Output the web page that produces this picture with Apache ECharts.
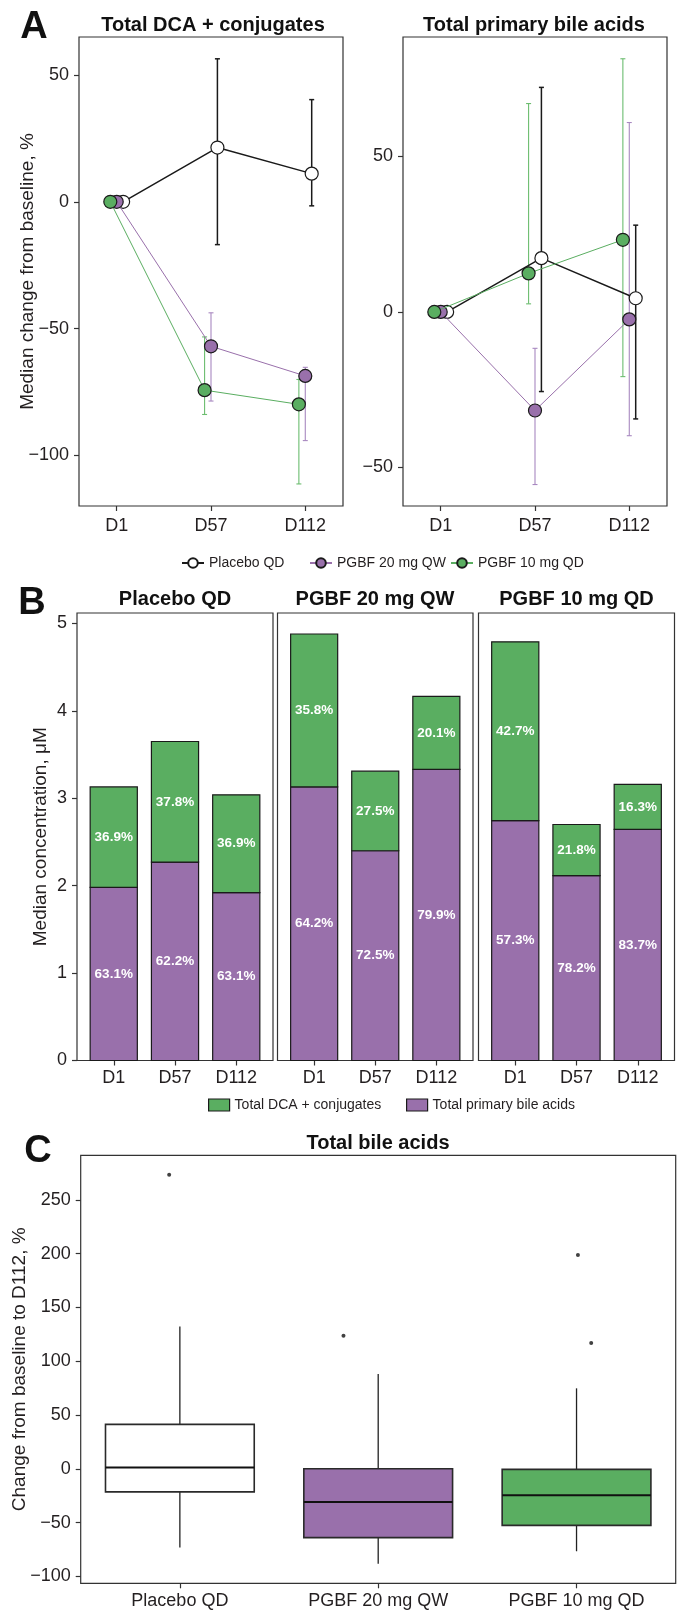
<!DOCTYPE html>
<html>
<head>
<meta charset="utf-8">
<script src="https://cdn.jsdelivr.net/npm/echarts@6/dist/echarts.min.js"></script>
<style>
  html, body { margin: 0; padding: 0; background: #fff; }
  #chart { width: 692px; height: 1624px; }
</style>
</head>
<body>
<div id="chart"></div>
<script>
// ---- data ----
const days = ['D1', 'D57', 'D112']
const groups = ['Placebo QD', 'PGBF 20 mg QW', 'PGBF 10 mg QD']

// A: median % change from baseline, with error bar ends
const dcaChgPlacebo = [0, 21.4, 11.1]
const dcaChgPlaceboLo = [null, -16.9, -1.6]
const dcaChgPlaceboHi = [null, 56.4, 40.3]
const dcaChg20 = [0, -57.0, -68.7]
const dcaChg20Lo = [null, -78.6, -94.2]
const dcaChg20Hi = [null, -43.8, -65.3]
const dcaChg10 = [0, -74.3, -79.9]
const dcaChg10Lo = [null, -83.9, -111.3]
const dcaChg10Hi = [null, -53.3, -70.1]

const priChgPlacebo = [0, 17.3, 4.4]
const priChgPlaceboLo = [null, -25.6, -34.4]
const priChgPlaceboHi = [null, 72.2, 27.9]
const priChg20 = [0, -31.7, -2.4]
const priChg20Lo = [null, -55.5, -39.8]
const priChg20Hi = [null, -11.7, 60.9]
const priChg10 = [0, 12.4, 23.2]
const priChg10Lo = [null, 2.6, -20.8]
const priChg10Hi = [null, 67.0, 81.4]

const dcaTicks = [-100, -50, 0, 50]
const priTicks = [-50, 0, 50]

// B: median concentration, uM
const primaryConcPlacebo = [1.98, 2.27, 1.92]
const dcaConcPlacebo = [1.15, 1.38, 1.12]
const primaryConc20 = [3.13, 2.40, 3.33]
const dcaConc20 = [1.75, 0.91, 0.835]
const primaryConc10 = [2.745, 2.115, 2.645]
const dcaConc10 = [2.045, 0.585, 0.515]
const primaryPctPlacebo = ['63.1%', '62.2%', '63.1%']
const dcaPctPlacebo = ['36.9%', '37.8%', '36.9%']
const primaryPct20 = ['64.2%', '72.5%', '79.9%']
const dcaPct20 = ['35.8%', '27.5%', '20.1%']
const primaryPct10 = ['57.3%', '78.2%', '83.7%']
const dcaPct10 = ['42.7%', '21.8%', '16.3%']
const concTicks = [0, 1, 2, 3, 4, 5]

// C: change from baseline to D112 (min, Q1, median, Q3, max)
const boxPlacebo = [-73.2, -21.5, 1.2, 41.3, 132.3]
const box20 = [-88.4, -64.0, -30.9, 0.0, 88.1]
const box10 = [-76.7, -52.6, -24.7, -0.6, 74.8]
const outlierGroup = [0, 1, 2, 2]
const outlierValue = [273.5, 123.6, 198.8, 117.0]
const outlierJitter = [-0.054, -0.175, 0.007, 0.074]
const bileTicks = [-100, -50, 0, 50, 100, 150, 200, 250]

// ---- styling ----
const FONT = '"Liberation Sans", Arial, Helvetica, sans-serif'
const INK = '#231f20'
const FRAME = '#333'
const GREEN = '#5aae61'
const PURPLE = '#9970ab'

const groupStyle = [
  { fill: '#fff', line: '#1a1a1a', err: '#1a1a1a', width: 1.5, dodge: 0.068 },
  { fill: PURPLE, line: PURPLE, err: '#a888c0', width: 1, dodge: 0 },
  { fill: GREEN, line: GREEN, err: '#6cbd6f', width: 1, dodge: -0.068 }
]

const minus = v => String(v).replace('-', '\u2212')

const tickLabel = { fontSize: 18, color: INK, fontFamily: FONT }
const tickLine = { color: FRAME, width: 1.2 }
const noLine = { show: false, onZero: false }

const chart = echarts.init(document.getElementById('chart'))

const frame = { show: true, borderColor: FRAME, borderWidth: 1.2, backgroundColor: 'transparent', outerBoundsMode: 'none', containLabel: false }
const grid = [
  { left: 79, top: 37, width: 264, height: 469 },
  { left: 403, top: 37, width: 264, height: 469 },
  { left: 77, top: 613, width: 196, height: 447.5 },
  { left: 277.5, top: 613, width: 195.5, height: 447.5 },
  { left: 478.5, top: 613, width: 196, height: 447.5 },
  { left: 80.7, top: 1155.3, width: 595, height: 428 }
].map(g => Object.assign({}, frame, g))

const yName = (text, gap) => ({
  name: text, nameLocation: 'middle', nameRotate: 90, nameGap: gap, nameMoveOverlap: false,
  nameTextStyle: { fontSize: 19, color: INK, fontFamily: FONT }
})

const xAxis = []
const yAxis = []

// A axes
;[0, 1].forEach(p => {
  xAxis.push({
    gridIndex: p, type: 'value', min: 0.6, max: 3.4,
    axisLine: noLine, splitLine: { show: false },
    axisTick: { show: true, length: 5, customValues: [1, 2, 3], lineStyle: tickLine },
    axisLabel: Object.assign({ customValues: [1, 2, 3], margin: 11, formatter: v => days[Math.round(v) - 1] }, tickLabel)
  })
  const ticks = p === 0 ? dcaTicks : priTicks
  yAxis.push(Object.assign({
    gridIndex: p, type: 'value',
    min: p === 0 ? -120 : -62.4, max: p === 0 ? 65 : 88.4,
    axisLine: noLine, splitLine: { show: false },
    axisTick: { show: true, length: 5, customValues: ticks, lineStyle: tickLine },
    axisLabel: Object.assign({ customValues: ticks, margin: 10, formatter: minus }, tickLabel)
  }, yName(p === 0 ? 'Median change from baseline, %' : '', 42)))
})

// B axes
;[0, 1, 2].forEach(p => {
  xAxis.push({
    gridIndex: 2 + p, type: 'value', min: 0.4, max: 3.6,
    axisLine: noLine, splitLine: { show: false },
    axisTick: { show: true, length: 5, customValues: [1, 2, 3], lineStyle: tickLine },
    axisLabel: Object.assign({ customValues: [1, 2, 3], margin: 9, formatter: v => days[Math.round(v) - 1] }, tickLabel)
  })
  yAxis.push(Object.assign({
    gridIndex: 2 + p, type: 'value', min: 0, max: 5.12,
    axisLine: noLine, splitLine: { show: false },
    axisTick: { show: p === 0, length: 5, customValues: concTicks, lineStyle: tickLine },
    axisLabel: Object.assign({ show: p === 0, customValues: concTicks, margin: 10 }, tickLabel)
  }, yName(p === 0 ? 'Median concentration, \u03bcM' : '', 27)))
})

// C axes
xAxis.push({
  gridIndex: 5, type: 'value', min: -0.5, max: 2.5,
  axisLine: noLine, splitLine: { show: false },
  axisTick: { show: true, length: 5, customValues: [0, 1, 2], lineStyle: tickLine },
  axisLabel: Object.assign({ customValues: [0, 1, 2], margin: 9, formatter: v => groups[Math.round(v)] }, tickLabel)
})
yAxis.push(Object.assign({
  gridIndex: 5, type: 'value', min: -106.5, max: 291.5,
  axisLine: noLine, splitLine: { show: false },
  axisTick: { show: true, length: 5, customValues: bileTicks, lineStyle: tickLine },
  axisLabel: Object.assign({ customValues: bileTicks, margin: 10, formatter: minus }, tickLabel)
}, yName('Change from baseline to D112, %', 51)))

const series = []

// A: error bars, then lines with points
const panelA = [
  [[dcaChgPlacebo, dcaChgPlaceboLo, dcaChgPlaceboHi], [dcaChg20, dcaChg20Lo, dcaChg20Hi], [dcaChg10, dcaChg10Lo, dcaChg10Hi]],
  [[priChgPlacebo, priChgPlaceboLo, priChgPlaceboHi], [priChg20, priChg20Lo, priChg20Hi], [priChg10, priChg10Lo, priChg10Hi]]
]

panelA.forEach((sets, p) => {
  sets.forEach(([med, lo, hi], g) => {
    const st = groupStyle[g]
    const bars = []
    lo.forEach((v, i) => {
      if (v !== null) bars.push([i + 1 + st.dodge, v, hi[i]])
    })
    series.push({
      type: 'custom', xAxisIndex: p, yAxisIndex: p, z: 1, silent: true,
      data: bars,
      encode: { x: 0, y: [1, 2] },
      renderItem: (params, api) => {
        const x = api.value(0)
        const top = api.coord([x, api.value(2)])
        const bot = api.coord([x, api.value(1)])
        const cap = 2.5
        const style = { stroke: st.err, lineWidth: g === 0 ? 1.5 : 1.1 }
        return {
          type: 'group',
          children: [
            { type: 'line', shape: { x1: top[0], y1: top[1], x2: bot[0], y2: bot[1] }, style },
            { type: 'line', shape: { x1: top[0] - cap, y1: top[1], x2: top[0] + cap, y2: top[1] }, style },
            { type: 'line', shape: { x1: bot[0] - cap, y1: bot[1], x2: bot[0] + cap, y2: bot[1] }, style }
          ]
        }
      }
    })
  })
  sets.forEach(([med], g) => {
    const st = groupStyle[g]
    series.push({
      type: 'line', name: groups[g], xAxisIndex: p, yAxisIndex: p, z: 3 + g,
      data: med.map((v, i) => [i + 1 + st.dodge, v]),
      symbol: 'circle', symbolSize: 13,
      itemStyle: { color: st.fill, borderColor: '#1a1a1a', borderWidth: 1.2 },
      lineStyle: { color: st.line, width: st.width },
      emphasis: { disabled: true }
    })
  })
})

// B: stacked bars, one segment per data item [day, from, to]
const panelB = [
  [primaryConcPlacebo, dcaConcPlacebo, primaryPctPlacebo, dcaPctPlacebo],
  [primaryConc20, dcaConc20, primaryPct20, dcaPct20],
  [primaryConc10, dcaConc10, primaryPct10, dcaPct10]
]
const segmentRenderer = (color, labels) => (params, api) => {
  const x = api.value(0)
  const base = api.coord([x, api.value(1)])
  const top = api.coord([x, api.value(2)])
  const w = api.size([0.77, 0])[0]
  return {
    type: 'group',
    children: [
      { type: 'rect', shape: { x: base[0] - w / 2, y: top[1], width: w, height: base[1] - top[1] },
        style: { fill: color, stroke: '#1a1a1a', lineWidth: 1.2 } },
      { type: 'text', x: base[0], y: (base[1] + top[1]) / 2,
        style: { text: labels[params.dataIndex], fill: '#fff', textAlign: 'center', textVerticalAlign: 'middle',
          font: 'bold 13.5px ' + FONT } }
    ]
  }
}
panelB.forEach(([pri, dca, priPct, dcaPct], p) => {
  series.push({
    type: 'custom', name: 'Total primary bile acids', silent: true,
    xAxisIndex: 2 + p, yAxisIndex: 2 + p,
    data: pri.map((v, i) => [i + 1, 0, v]),
    encode: { x: 0, y: [1, 2] },
    itemStyle: { color: PURPLE, borderColor: '#1a1a1a', borderWidth: 1 },
    renderItem: segmentRenderer(PURPLE, priPct)
  })
  series.push({
    type: 'custom', name: 'Total DCA + conjugates', silent: true,
    xAxisIndex: 2 + p, yAxisIndex: 2 + p,
    data: dca.map((v, i) => [i + 1, pri[i], pri[i] + v]),
    encode: { x: 0, y: [1, 2] },
    itemStyle: { color: GREEN, borderColor: '#1a1a1a', borderWidth: 1 },
    renderItem: segmentRenderer(GREEN, dcaPct)
  })
})

// C: box plots and outliers
const boxFill = ['#fff', PURPLE, GREEN]
series.push({
  type: 'custom', xAxisIndex: 5, yAxisIndex: 5, silent: true,
  data: [boxPlacebo, box20, box10].map((b, i) => [i].concat(b)),
  encode: { x: 0, y: [1, 5] },
  renderItem: (params, api) => {
    const x = api.value(0)
    const half = api.size([0.75, 0])[0] / 2
    const lo = api.coord([x, api.value(1)])
    const q1 = api.coord([x, api.value(2)])
    const md = api.coord([x, api.value(3)])
    const q3 = api.coord([x, api.value(4)])
    const hi = api.coord([x, api.value(5)])
    const whisker = { stroke: '#222', lineWidth: 1.3 }
    return {
      type: 'group',
      children: [
        { type: 'line', shape: { x1: hi[0], y1: hi[1], x2: q3[0], y2: q3[1] }, style: whisker },
        { type: 'line', shape: { x1: lo[0], y1: lo[1], x2: q1[0], y2: q1[1] }, style: whisker },
        { type: 'rect', shape: { x: q3[0] - half, y: q3[1], width: half * 2, height: q1[1] - q3[1] },
          style: { fill: boxFill[params.dataIndex], stroke: '#2a2a2a', lineWidth: 1.6 } },
        { type: 'line', shape: { x1: md[0] - half, y1: md[1], x2: md[0] + half, y2: md[1] },
          style: { stroke: '#111', lineWidth: 2 } }
      ]
    }
  }
})
series.push({
  type: 'scatter', xAxisIndex: 5, yAxisIndex: 5, silent: true,
  data: outlierValue.map((v, i) => [outlierGroup[i] + outlierJitter[i], v]),
  symbol: 'circle', symbolSize: 4,
  itemStyle: { color: '#111' }
})

const legendBase = {
  orient: 'horizontal', selectedMode: false, itemGap: 0, padding: 0,
  textStyle: { fontSize: 14, color: INK, fontFamily: FONT }
}
const legend = [
  Object.assign({ data: [groups[0]], left: 181, top: 556, itemWidth: 22, itemHeight: 12 }, legendBase),
  Object.assign({ data: [groups[1]], left: 309, top: 556, itemWidth: 22, itemHeight: 12 }, legendBase),
  Object.assign({ data: [groups[2]], left: 450, top: 556, itemWidth: 22, itemHeight: 12 }, legendBase),
  Object.assign({ data: ['Total DCA + conjugates'], left: 208, top: 1098, icon: 'rect', itemWidth: 21, itemHeight: 12,
    itemStyle: { borderColor: '#1a1a1a', borderWidth: 1.2 } }, legendBase),
  Object.assign({ data: ['Total primary bile acids'], left: 406, top: 1098, icon: 'rect', itemWidth: 21, itemHeight: 12,
    itemStyle: { borderColor: '#1a1a1a', borderWidth: 1.2 } }, legendBase)
]

const label = (text, x, y, size) => ({
  type: 'text', x, y, silent: true,
  style: {
    text, fill: '#111', textAlign: 'center', textVerticalAlign: 'middle',
    font: 'bold ' + size + 'px ' + FONT
  }
})

const graphic = [
  label('A', 34, 28, 38),
  label('Total DCA + conjugates', 213, 25, 20),
  label('Total primary bile acids', 534, 25, 20),
  label('B', 32, 604, 38),
  label(groups[0], 175, 599, 20),
  label(groups[1], 375, 599, 20),
  label(groups[2], 576.5, 599, 20),
  label('C', 38, 1152, 38),
  label('Total bile acids', 378, 1143, 20)
]

chart.setOption({
  animation: false,
  backgroundColor: '#fff',
  textStyle: { fontFamily: FONT },
  grid, xAxis, yAxis, series, legend, graphic
})
</script>
</body>
</html>
